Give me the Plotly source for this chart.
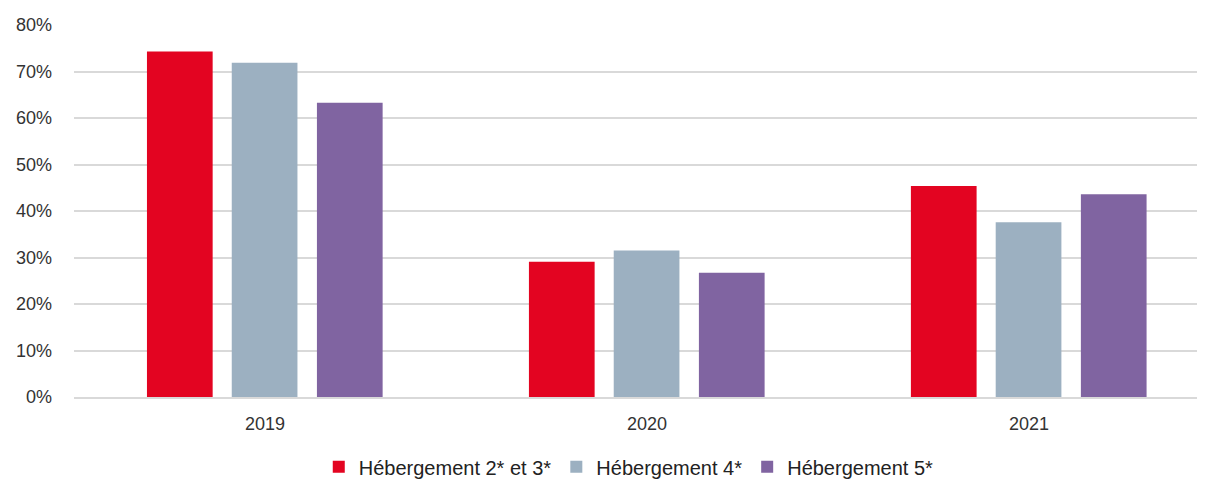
"""Taux d'occupation par catégorie d'hébergement, 2019-2021."""

import plotly.graph_objects as go

years = ["2019", "2020", "2021"]
series_names = ["Hébergement 2* et 3*", "Hébergement 4*", "Hébergement 5*"]
occ_2_3 = [74.3, 29.1, 45.4]
occ_4 = [71.9, 31.5, 37.6]
occ_5 = [63.3, 26.7, 43.6]

colors = ["#e30421", "#9cb0c1", "#8064a1"]
offsets = [-0.309, -0.087, 0.136]
BAR_WIDTH = 0.172
FONT = "Liberation Sans, Arial, sans-serif"

fig = go.Figure()
for name, values, color, offset in zip(
    series_names, [occ_2_3, occ_4, occ_5], colors, offsets
):
    fig.add_trace(
        go.Bar(
            x=years,
            y=values,
            name=name,
            marker=dict(color=color, line=dict(width=0)),
            width=BAR_WIDTH,
            offset=offset,
        )
    )

# page body adds an 8px margin, so the figure is sized to fit inside it
fig.update_layout(
    width=1194,
    height=471,
    margin=dict(l=66, r=5, t=17, b=82, autoexpand=False),
    paper_bgcolor="white",
    plot_bgcolor="white",
    font=dict(family=FONT, size=18, color="#333333"),
    barmode="group",
    showlegend=True,
    legend=dict(
        orientation="h",
        x=0.494,
        xanchor="center",
        yref="container",
        y=0.026,
        yanchor="middle",
        font=dict(size=20, color="#222222"),
        itemwidth=30,
        traceorder="normal",
    ),
    xaxis=dict(
        type="category",
        range=[-0.5, 2.44],
        showgrid=False,
        showline=True,
        linecolor="#d9d9d9",
        linewidth=2,
        ticks="",
        ticklabelstandoff=9,
        tickfont=dict(size=18, color="#333333"),
        fixedrange=True,
    ),
    yaxis=dict(
        range=[0, 80],
        dtick=10,
        ticksuffix="%",
        showgrid=True,
        gridcolor="#d9d9d9",
        gridwidth=2,
        zeroline=False,
        showline=False,
        ticklabelstandoff=21,
        tickfont=dict(size=18, color="#333333"),
        fixedrange=True,
    ),
)

fig.write_html("out.html")
